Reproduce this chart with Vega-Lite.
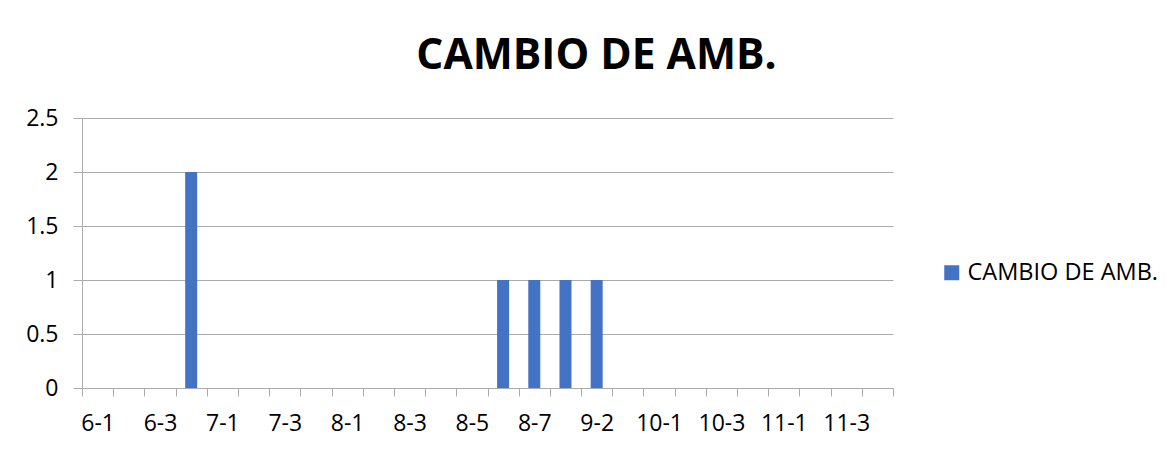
{
  "$schema": "https://vega.github.io/schema/vega-lite/v6.json",
  "autosize": "none",
  "width": 811,
  "height": 270,
  "padding": {"left": 82, "top": 118, "right": 281, "bottom": 61},
  "background": "white",
  "title": {
    "text": "CAMBIO DE AMB.",
    "font": "Open Sans",
    "fontSize": 42.5,
    "fontWeight": "bold",
    "color": "#000000",
    "anchor": "middle",
    "dx": 109,
    "baseline": "alphabetic",
    "offset": -4
  },
  "data": {
    "values": [
      {"grupo": "6-1", "valor": 0},
      {"grupo": "6-2", "valor": 0},
      {"grupo": "6-3", "valor": 0},
      {"grupo": "6-4", "valor": 2},
      {"grupo": "7-1", "valor": 0},
      {"grupo": "7-2", "valor": 0},
      {"grupo": "7-3", "valor": 0},
      {"grupo": "7-4", "valor": 0},
      {"grupo": "8-1", "valor": 0},
      {"grupo": "8-2", "valor": 0},
      {"grupo": "8-3", "valor": 0},
      {"grupo": "8-4", "valor": 0},
      {"grupo": "8-5", "valor": 0},
      {"grupo": "8-6", "valor": 1},
      {"grupo": "8-7", "valor": 1},
      {"grupo": "9-1", "valor": 1},
      {"grupo": "9-2", "valor": 1},
      {"grupo": "9-3", "valor": 0},
      {"grupo": "10-1", "valor": 0},
      {"grupo": "10-2", "valor": 0},
      {"grupo": "10-3", "valor": 0},
      {"grupo": "10-4", "valor": 0},
      {"grupo": "11-1", "valor": 0},
      {"grupo": "11-2", "valor": 0},
      {"grupo": "11-3", "valor": 0},
      {"grupo": "11-4", "valor": 0}
    ]
  },
  "mark": {"type": "bar", "width": 12},
  "encoding": {
    "x": {
      "field": "grupo",
      "type": "nominal",
      "sort": null,
      "scale": {"paddingInner": 0, "paddingOuter": 0},
      "axis": {
        "title": null,
        "labelAngle": 0,
        "labelFont": "Open Sans",
        "labelFontSize": 23,
        "labelColor": "#000000",
        "labelPadding": 16,
        "labelOverlap": false,
        "labelExpr": "indexof(['6-1','6-3','7-1','7-3','8-1','8-3','8-5','8-7','9-2','10-1','10-3','11-1','11-3'], datum.value) >= 0 ? datum.label : ''",
        "tickBand": "extent",
        "tickSize": 8,
        "tickColor": "#ABABAB",
        "domainColor": "#ABABAB",
        "grid": false
      }
    },
    "y": {
      "field": "valor",
      "type": "quantitative",
      "scale": {"domain": [0, 2.5]},
      "axis": {
        "title": null,
        "values": [0, 0.5, 1, 1.5, 2, 2.5],
        "format": "~g",
        "labelFont": "Open Sans",
        "labelFontSize": 23,
        "labelColor": "#000000",
        "labelPadding": 15,
        "tickSize": 9,
        "tickColor": "#ABABAB",
        "domainColor": "#ABABAB",
        "grid": true,
        "gridColor": "#ABABAB"
      }
    },
    "color": {
      "datum": "CAMBIO DE AMB.",
      "type": "nominal",
      "scale": {"range": ["#4472C4"]},
      "legend": {
        "title": null,
        "orient": "none",
        "legendX": 858,
        "legendY": 143,
        "symbolType": "square",
        "symbolSize": 225,
        "symbolStrokeWidth": 0,
        "labelFont": "Open Sans",
        "labelFontSize": 23.5,
        "labelLimit": 400,
        "labelColor": "#000000",
        "labelOffset": 4,
        "padding": 0
      }
    }
  },
  "config": {
    "view": {"stroke": null}
  }
}
